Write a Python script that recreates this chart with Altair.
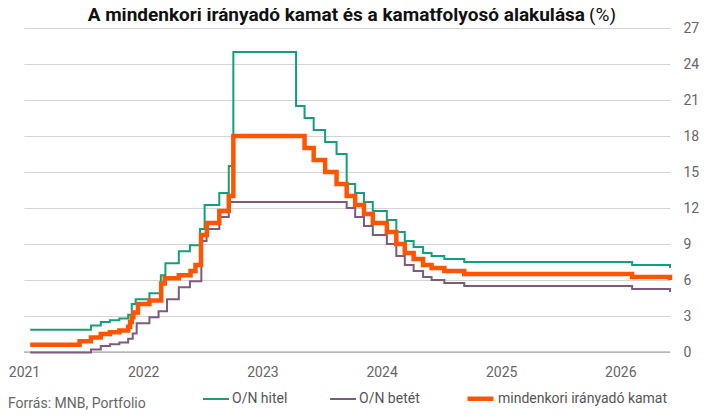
import altair as alt
import pandas as pd

series_names = ["O/N hitel", "O/N betét", "mindenkori irányadó kamat"]
series_colors = ["#12a07b", "#7d5b7c", "#ff5500"]
series_widths = [2, 2, 4.5]

year_ticks = [2021, 2022, 2023, 2024, 2025, 2026]
y_ticks = [0, 3, 6, 9, 12, 15, 18, 21, 24, 27]

hitel_dates = ["2021-01-20", "2021-07-25", "2021-08-24", "2021-09-21", "2021-10-20",
               "2021-11-16", "2021-11-27", "2021-12-09", "2022-01-20", "2022-02-24",
               "2022-03-10", "2022-04-20", "2022-05-24", "2022-06-24", "2022-07-08",
               "2022-08-22", "2022-09-20", "2022-10-04", "2023-04-14", "2023-05-10",
               "2023-06-07", "2023-07-12", "2023-08-16", "2023-09-16", "2023-10-12",
               "2023-11-08", "2023-12-05", "2024-01-17", "2024-02-15", "2024-03-12",
               "2024-04-08", "2024-05-07", "2024-06-02", "2024-07-11", "2024-09-10",
               "2026-02-06", "2026-06-02"]
hitel_values = [1.85, 2.2, 2.5, 2.65, 2.8,
                3.1, 4.0, 4.4, 4.9, 6.4,
                7.4, 8.4, 8.9, 10.25, 12.25,
                13.25, 15.5, 25.0, 20.5, 19.5,
                18.5, 17.5, 16.5, 14.0, 13.25,
                12.5, 11.75, 11.0, 10.0, 9.25,
                8.75, 8.25, 8.0, 7.75, 7.5,
                7.25, 7.0]

betet_dates = ["2021-01-20", "2021-07-25", "2021-08-24", "2021-09-21", "2021-10-20",
               "2021-11-16", "2021-11-30", "2021-12-12", "2022-01-20", "2022-02-17",
               "2022-03-15", "2022-04-20", "2022-05-24", "2022-06-28", "2022-07-14",
               "2022-08-22", "2022-09-20", "2023-09-16", "2023-10-12", "2023-11-08",
               "2023-12-05", "2024-01-17", "2024-02-15", "2024-03-12", "2024-04-08",
               "2024-05-07", "2024-06-02", "2024-07-11", "2024-09-10", "2026-02-06",
               "2026-06-02"]
betet_values = [-0.05, 0.2, 0.5, 0.65, 0.8,
                1.1, 1.55, 2.4, 2.9, 3.4,
                4.4, 5.4, 5.9, 9.25, 10.25,
                11.25, 12.5, 12.0, 11.25, 10.5,
                9.75, 9.0, 8.0, 7.25, 6.75,
                6.25, 6.0, 5.75, 5.5, 5.25,
                5.0]

kamat_dates = ["2021-01-20", "2021-06-20", "2021-07-25", "2021-08-24", "2021-09-21",
               "2021-10-20", "2021-11-16", "2021-11-22", "2021-11-27", "2021-12-02",
               "2021-12-16", "2022-01-20", "2022-02-25", "2022-03-08", "2022-04-20",
               "2022-05-26", "2022-06-10", "2022-06-27", "2022-07-15", "2022-08-22",
               "2022-09-20", "2022-10-04", "2023-05-10", "2023-06-07", "2023-07-12",
               "2023-08-16", "2023-09-16", "2023-10-12", "2023-11-08", "2023-12-05",
               "2024-01-17", "2024-02-15", "2024-03-12", "2024-04-08", "2024-05-07",
               "2024-06-02", "2024-07-11", "2024-09-10", "2026-02-06", "2026-06-02"]
kamat_values = [0.6, 0.9, 1.2, 1.5, 1.65,
                1.8, 2.1, 2.5, 2.9, 3.3,
                4.0, 4.3, 5.7, 6.15, 6.4,
                6.75, 7.25, 9.75, 10.75, 11.75,
                13.0, 18.0, 17.0, 16.0, 15.0,
                14.0, 13.0, 12.25, 11.5, 10.75,
                10.0, 9.0, 8.25, 7.75, 7.25,
                7.0, 6.75, 6.5, 6.25, 6.0]

title_main = "A mindenkori irányadó kamat és a kamatfolyosó alakulása"
title_unit = "(%)"
source_text = "Forrás: MNB, Portfolio"

frames = []
for name, d, v in [(series_names[0], hitel_dates, hitel_values),
                   (series_names[1], betet_dates, betet_values),
                   (series_names[2], kamat_dates, kamat_values)]:
    frames.append(pd.DataFrame({"date": d, "value": v, "series": name}))
df = pd.concat(frames, ignore_index=True)

FONT = "Roboto"
TITLE_FONT = "Roboto"
LABEL_COLOR = "#666666"

x_enc = alt.X(
    "date:T",
    scale=alt.Scale(domain=["2021-01-01", "2026-06-02"]),
    axis=alt.Axis(
        values=[alt.DateTime(year=y, month=1, date=1) for y in year_ticks],
        format="%Y", title=None, domain=False, ticks=False, grid=False,
        labelFontSize=14, labelColor=LABEL_COLOR, labelFont=FONT,
        labelPadding=13, labelFlush=False, labelOverlap=False,
    ),
)
y_enc = alt.Y(
    "value:Q",
    scale=alt.Scale(domain=[0, 27], nice=False, zero=False),
    axis=alt.Axis(
        orient="right", values=y_ticks, title=None, domain=False, ticks=False,
        grid=True, gridColor="#d4d4d4", gridWidth=1,
        labelFontSize=14, labelColor=LABEL_COLOR, labelFont=FONT,
        labelPadding=13, labelAlign="left", labelOverlap=False,
    ),
)
legend = alt.Legend(
    title=None, orient="none", legendX=178, legendY=355, direction="horizontal",
    symbolType="stroke", symbolSize=676,
    labelFontSize=14, labelColor="#555555", labelLimit=400,
    labelFont=FONT, labelOffset=2, columnPadding=38, padding=0,
)
color_enc = alt.Color("series:N", scale=alt.Scale(domain=series_names, range=series_colors),
                      legend=legend)
width_enc = alt.StrokeWidth("series:N",
                            scale=alt.Scale(type="ordinal", domain=series_names, range=series_widths),
                            legend=legend)

zero_rule = alt.Chart(pd.DataFrame({"value": [0]})).mark_rule(
    color="#999999", strokeWidth=1
).encode(y=y_enc)

layers = [zero_rule]
for name in series_names:
    layers.append(
        alt.Chart(df).transform_filter(alt.datum.series == name)
        .mark_line(interpolate="step-after", strokeCap="butt", strokeJoin="miter")
        .encode(x=x_enc, y=y_enc, color=color_enc, strokeWidth=width_enc)
    )

title_left = alt.Chart(pd.DataFrame({"t": [title_main]})).mark_text(
    align="right", baseline="alphabetic", font=TITLE_FONT,
    fontSize=19, fontWeight="bold", color="#111111"
).encode(x=alt.value(561), y=alt.value(-7), text="t:N")
title_right = alt.Chart(pd.DataFrame({"t": [title_unit]})).mark_text(
    align="left", baseline="alphabetic", font=TITLE_FONT,
    fontSize=19, fontWeight="normal", color="#111111"
).encode(x=alt.value(565), y=alt.value(-7), text="t:N")
source = alt.Chart(pd.DataFrame({"t": [source_text]})).mark_text(
    align="left", baseline="middle", font=FONT, fontSize=14, color=LABEL_COLOR
).encode(x=alt.value(-16), y=alt.value(376), text="t:N")

chart = alt.layer(*layers, title_left, title_right, source).properties(
    width=646, height=324,
    autosize=alt.AutoSizeParams(type="none"),
    padding={"left": 16, "top": 20, "right": 40, "bottom": 62},
).configure_view(stroke=None)

chart.save("out.html", embed_options={"renderer": "svg", "actions": False})
